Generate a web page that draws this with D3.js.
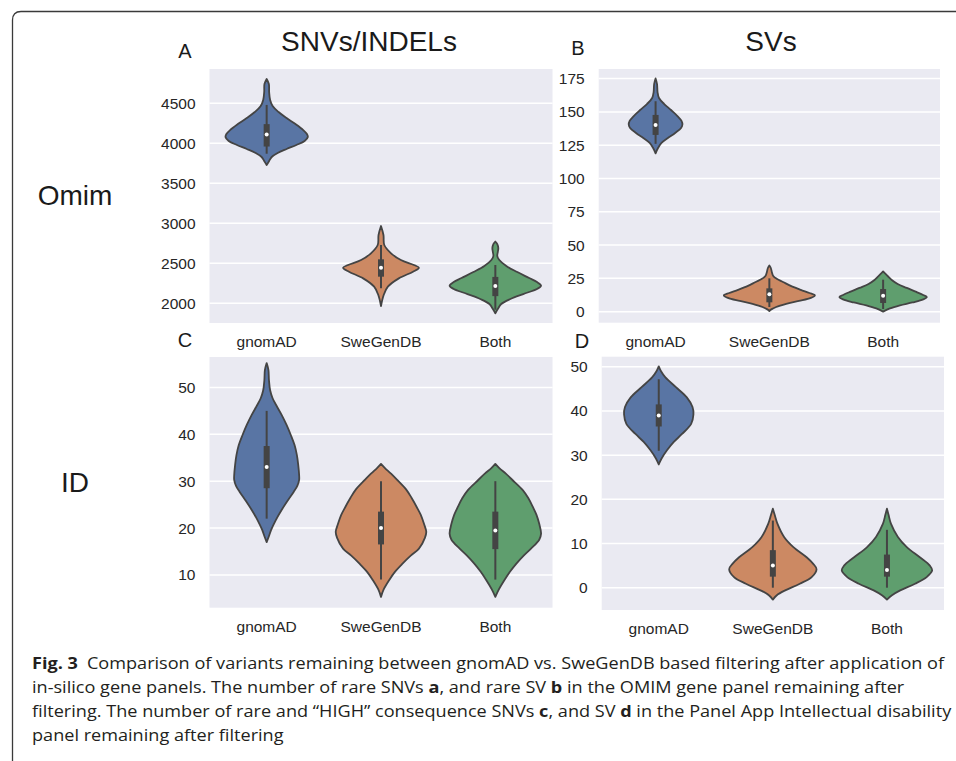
<!DOCTYPE html>
<html>
<head>
<meta charset="utf-8">
<script src="https://cdn.jsdelivr.net/npm/d3@7"></script>
<style>
  body { margin: 0; background: #ffffff; }
  svg { display: block; }
</style>
</head>
<body>
<svg id="fig" width="956" height="761"></svg>
<script>
// ---- categories and colours ------------------------------------------
const groups = ["gnomAD", "SweGenDB", "Both"];
const groupColors = ["#5975A4", "#CC8963", "#5F9E6E"];

// ---- panel A: rare SNVs/INDELs, OMIM panel -----------------------------
// density profiles: [value, relative kernel density (1 = widest violin)]
const snvOmimTicks = [2000, 2500, 3000, 3500, 4000, 4500];
const snvOmimLimits = [1754, 4929];
const snvOmimDensity = [
  [[4804,0],[4741,0.048],[4641,0.054],[4541,0.076],[4466,0.13],[4391,0.26],[4316,0.435],[4241,0.63],[4166,0.80],[4116,0.88],[4079,0.90],[4029,0.83],[3979,0.65],[3929,0.435],[3879,0.24],[3829,0.11],[3779,0.054],[3729,0]],
  [[2966,0],[2854,0.054],[2729,0.072],[2625,0.22],[2541,0.435],[2479,0.72],[2445,0.83],[2395,0.70],[2312,0.39],[2208,0.15],[2104,0.059],[1966,0]],
  [[2772,0],[2741,0.043],[2691,0.065],[2641,0.054],[2591,0.043],[2541,0.087],[2466,0.24],[2391,0.48],[2316,0.74],[2266,0.91],[2220,1.0],[2179,0.91],[2116,0.61],[2054,0.33],[1991,0.13],[1929,0.054],[1875,0]]
];
// box stats: [lower whisker, Q1, median, Q3, upper whisker]
const snvOmimBox = [[3870,3960,4110,4240,4480],[2187,2333,2445,2550,2729],[1920,2090,2216,2330,2479]];

// ---- panel B: rare SVs, OMIM panel -------------------------------------
const svOmimTicks = [0, 25, 50, 75, 100, 125, 150, 175];
const svOmimLimits = [-8.3, 182.2];
const svOmimDensity = [
  [[175.1,0],[170.9,0.032],[164.9,0.043],[160.4,0.075],[155.9,0.19],[151.4,0.34],[146.9,0.48],[143.2,0.57],[140.5,0.59],[137.9,0.56],[134.2,0.43],[130.4,0.27],[126.7,0.13],[122.9,0.054],[118.9,0]],
  [[34.7,0],[32.8,0.032],[29.8,0.054],[26.8,0.086],[24.5,0.17],[22.3,0.30],[19.3,0.47],[16.3,0.69],[14.0,0.88],[12.2,1.0],[10.3,0.91],[8.0,0.65],[5.8,0.37],[3.5,0.15],[1.7,0.043],[0.5,0]],
  [[30.2,0],[28.3,0.054],[26.1,0.12],[23.8,0.19],[20.8,0.32],[17.8,0.52],[14.8,0.73],[12.5,0.88],[11.0,0.96],[9.2,0.88],[6.9,0.645],[4.7,0.37],[2.4,0.15],[0,0]]
];
const svOmimBox = [[126,132.7,140.2,147.7,158],[3.5,7,13,17.5,25],[2,6.5,12,17,24]];

// ---- panel C: rare HIGH-consequence SNVs, intellectual disability panel --
const snvIdTicks = [10, 20, 30, 40, 50];
const snvIdLimits = [3.0, 56.5];
const snvIdDensity = [
  [[55.2,0],[53.7,0.039],[51.6,0.05],[49.4,0.076],[47.7,0.13],[46.2,0.21],[44.1,0.33],[42.0,0.435],[39.8,0.53],[37.7,0.61],[35.6,0.66],[33.5,0.69],[31.3,0.71],[30.3,0.71],[29.0,0.67],[27.7,0.59],[26.0,0.47],[23.9,0.33],[21.7,0.20],[19.6,0.098],[18.1,0.043],[17.0,0]],
  [[33.7,0],[32.8,0.087],[31.6,0.22],[30.2,0.36],[28.1,0.56],[26.4,0.67],[24.5,0.78],[22.8,0.87],[20.9,0.94],[19.2,0.99],[17.9,0.96],[15.6,0.83],[14.1,0.65],[12.4,0.47],[10.6,0.30],[8.9,0.18],[6.8,0.054],[5.3,0]],
  [[33.7,0],[32.8,0.087],[31.6,0.23],[30.2,0.38],[28.1,0.60],[26.4,0.72],[24.5,0.82],[22.8,0.90],[20.9,0.96],[18.8,1.0],[17.5,0.96],[15.6,0.78],[14.1,0.62],[12.4,0.46],[10.6,0.315],[8.9,0.20],[6.8,0.072],[5.3,0]]
];
const snvIdBox = [[22,28.5,33,37.5,45],[9,16.5,20,23.5,30],[9,15.5,19.5,23.5,30]];

// ---- panel D: SVs, intellectual disability panel -----------------------
const svIdTicks = [0, 10, 20, 30, 40, 50];
const svIdLimits = [-5.05, 52.3];
const svIdDensity = [
  [[50.1,0],[49.0,0.05],[47.6,0.146],[45.4,0.376],[43.1,0.615],[40.9,0.74],[39.2,0.76],[37.1,0.71],[34.8,0.51],[33.0,0.33],[31.1,0.18],[29.2,0.059],[27.9,0]],
  [[17.9,0],[16.5,0.04],[14.5,0.10],[11.5,0.246],[9.2,0.45],[6.9,0.74],[5.4,0.885],[4.2,0.957],[2.4,0.85],[0.9,0.59],[-0.6,0.27],[-1.7,0.087],[-2.7,0]],
  [[17.9,0],[16.5,0.035],[14.5,0.087],[11.5,0.24],[9.2,0.435],[6.9,0.72],[5.0,0.94],[3.9,0.99],[2.4,0.87],[0.9,0.615],[-0.6,0.29],[-1.7,0.11],[-2.7,0]]
];
const svIdBox = [[31,36.5,39,41.5,47.2],[0,2.5,5,8.5,15.2],[0,2.5,4,7.5,13.1]];

// ---- figure text ---------------------------------------------------------
const columnTitles = ["SNVs/INDELs", "SVs"];
const rowTitles = ["Omim", "ID"];
const captionLines = [
  [["Fig. 3", true], ["\u2002Comparison of variants remaining between gnomAD vs. SweGenDB based filtering after application of", false]],
  [["in-silico gene panels. The number of rare SNVs ", false], ["a", true], [", and rare SV ", false], ["b", true], [" in the OMIM gene panel remaining after", false]],
  [["filtering. The number of rare and \u201cHIGH\u201d consequence SNVs ", false], ["c", true], [", and SV ", false], ["d", true], [" in the Panel App Intellectual disability", false]],
  [["panel remaining after filtering", false]]
];

// ---- layout --------------------------------------------------------------
const svg = d3.select("#fig");
const FONT = "'Liberation Sans', Arial, Helvetica, sans-serif";
const LINE = "#444444";

const panels = [
  { letter: "A", density: snvOmimDensity, box: snvOmimBox, ticks: snvOmimTicks, limits: snvOmimLimits,
    x0: 209.5, x1: 552.5, y0: 69, y1: 323, lx: 185, ly: 58 },
  { letter: "B", density: svOmimDensity, box: svOmimBox, ticks: svOmimTicks, limits: svOmimLimits,
    x0: 598.7, x1: 940, y0: 69, y1: 322.7, lx: 578, ly: 55 },
  { letter: "C", density: snvIdDensity, box: snvIdBox, ticks: snvIdTicks, limits: snvIdLimits,
    x0: 209.5, x1: 552.5, y0: 357, y1: 607.7, lx: 185, ly: 346.5 },
  { letter: "D", density: svIdDensity, box: svIdBox, ticks: svIdTicks, limits: svIdLimits,
    x0: 601.7, x1: 944, y0: 356.7, y1: 610, lx: 582, ly: 348 }
];

// figure frame (rounded corner, open towards right and bottom)
svg.append("path")
  .attr("d", "M12.5,761 L12.5,20 Q12.5,11.5 21,11.5 L956,11.5")
  .attr("fill", "none").attr("stroke", "#3a3a3a").attr("stroke-width", 1.3);

panels.forEach(p => {
  const g = svg.append("g");
  const x = d3.scaleBand().domain(groups).range([p.x0, p.x1]);
  const y = d3.scaleLinear().domain(p.limits).range([p.y1, p.y0]);
  const halfW = d3.scaleLinear().domain([0, 1]).range([0, x.bandwidth() * 0.4]);

  // background and grid
  g.append("rect").attr("x", p.x0).attr("y", p.y0)
    .attr("width", p.x1 - p.x0).attr("height", p.y1 - p.y0).attr("fill", "#EAEAF2");
  g.selectAll("line.grid").data(p.ticks).join("line").attr("class", "grid")
    .attr("x1", p.x0).attr("x2", p.x1)
    .attr("y1", d => y(d)).attr("y2", d => y(d))
    .attr("stroke", "#ffffff").attr("stroke-width", 1.5);

  // violins
  groups.forEach((name, i) => {
    const cx = x(name) + x.bandwidth() / 2;
    const area = d3.area()
      .y(d => y(d[0]))
      .x0(d => cx - halfW(d[1]))
      .x1(d => cx + halfW(d[1]))
      .curve(d3.curveCatmullRom.alpha(0.5));
    g.append("path").datum(p.density[i]).attr("d", area)
      .attr("fill", groupColors[i]).attr("stroke", LINE).attr("stroke-width", 1.8)
      .attr("stroke-linejoin", "round");

    const [lo, q1, med, q3, hi] = p.box[i];
    g.append("line").attr("x1", cx).attr("x2", cx).attr("y1", y(lo)).attr("y2", y(hi))
      .attr("stroke", LINE).attr("stroke-width", 2);
    g.append("rect").attr("x", cx - 3).attr("width", 6)
      .attr("y", y(q3)).attr("height", y(q1) - y(q3)).attr("fill", LINE);
    g.append("circle").attr("cx", cx).attr("cy", y(med)).attr("r", 2).attr("fill", "#ffffff");
  });

  // axes
  const ya = g.append("g").attr("transform", `translate(${p.x0},0)`)
    .call(d3.axisLeft(y).tickValues(p.ticks).tickSize(0).tickPadding(14).tickFormat(d3.format("d")));
  const xa = g.append("g").attr("transform", `translate(0,${p.y1})`)
    .call(d3.axisBottom(x).tickSize(0).tickPadding(13));
  [ya, xa].forEach(a => {
    a.select(".domain").remove();
    a.selectAll("text").attr("font-family", FONT).attr("font-size", 15.5).attr("fill", "#262626");
  });

  // panel letter
  svg.append("text").attr("x", p.lx).attr("y", p.ly).attr("text-anchor", "middle")
    .attr("font-family", FONT).attr("font-size", 20).attr("fill", "#1a1a1a").text(p.letter);
});

// column and row titles
svg.selectAll("text.coltitle").data(columnTitles).join("text").attr("class", "coltitle")
  .attr("x", (d, i) => [369, 771][i]).attr("y", 50.5).attr("text-anchor", "middle")
  .attr("font-family", FONT).attr("font-size", 28).attr("fill", "#1a1a1a").text(d => d);
svg.selectAll("text.rowtitle").data(rowTitles).join("text").attr("class", "rowtitle")
  .attr("x", 75).attr("y", (d, i) => [204.5, 491.5][i]).attr("text-anchor", "middle")
  .attr("font-family", FONT).attr("font-size", 28).attr("fill", "#1a1a1a").text(d => d);

// caption: one common horizontal squeeze gives a condensed face; the squeeze
// is chosen so the two longest lines stay inside the frame
const captionRight = [955, 952];
const captionNodes = captionLines.map(parts => {
  const t = svg.append("text").attr("x", 0).attr("y", 0)
    .attr("font-family", "'Open Sans', 'Noto Sans', sans-serif").attr("font-size", 16.5)
    .attr("fill", "#231f20");
  parts.forEach(([s, bold]) => t.append("tspan").text(s).attr("font-weight", bold ? 700 : 400));
  return t;
});
const w = captionNodes.map(t => t.node().getComputedTextLength());
const squeeze = Math.min((captionRight[0] - 32) / w[0], (captionRight[1] - 32) / w[2]);
captionNodes.forEach((t, li) => {
  t.attr("transform", `translate(32,${669 + li * 24}) scale(${squeeze},1)`);
});
</script>
</body>
</html>
